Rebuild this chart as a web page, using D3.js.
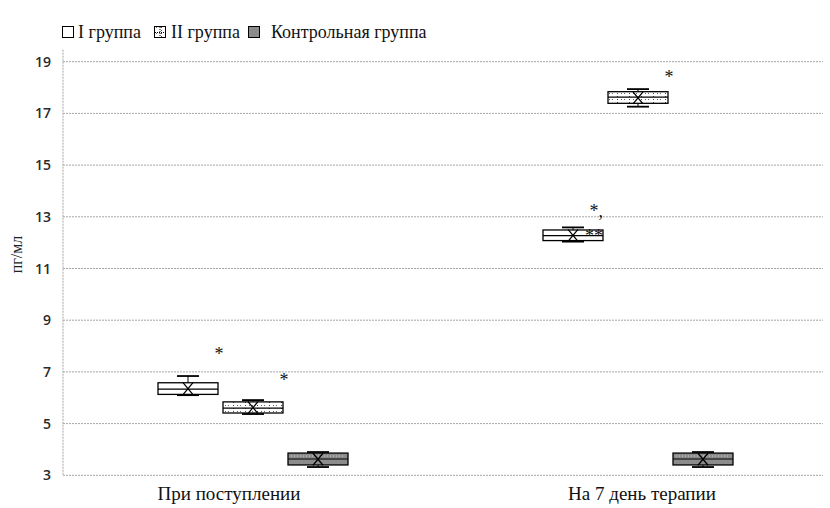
<!DOCTYPE html>
<html>
<head>
<meta charset="utf-8">
<script src="https://cdn.jsdelivr.net/npm/d3@7"></script>
<style>
  body { margin: 0; background: #fff; }
  svg { display: block; }
  .serif { font-family: 'Times New Roman', serif; }
</style>
</head>
<body>
<div id="chart"></div>
<script>
// Data
const categories = ['При поступлении', 'На 7 день терапии'];
const groups = ['I группа', 'II группа', 'Контрольная группа'];
const yTicks = [3, 5, 7, 9, 11, 13, 15, 17, 19];

// per group, one value per category
const mins    = [[6.10, 12.04], [5.37, 17.26], [3.32, 3.32]];
const q1s     = [[6.13, 12.08], [5.41, 17.39], [3.40, 3.40]];
const medians = [[6.33, 12.27], [5.60, 17.63], [3.63, 3.63]];
const q3s     = [[6.58, 12.49], [5.84, 17.84], [3.86, 3.86]];
const maxs    = [[6.84, 12.59], [5.91, 17.94], [3.90, 3.90]];
const means   = [[6.35, 12.28], [5.62, 17.60], [3.62, 3.62]];

// significance marks: group, category, text, baseline value
const marks = [
    {g: 0, c: 0, text: '*', v: 7.46},
    {g: 1, c: 0, text: '*', v: 6.45},
    {g: 0, c: 1, text: '*,', v: 12.99},
    {g: 0, c: 1, text: '**', v: 12.03},
    {g: 1, c: 1, text: '*', v: 18.18}
];

const W = 830, H = 508;
const plot = {left: 63, right: 823, top: 61.7, bottom: 475.3};

const svg = d3.select('#chart').append('svg')
    .attr('width', W).attr('height', H);

//Patterns
const defs = svg.append('defs');
const pat = defs.append('pattern')
    .attr('id', 'dots').attr('patternUnits', 'userSpaceOnUse')
    .attr('width', 12).attr('height', 6);
pat.append('rect').attr('width', 12).attr('height', 6).attr('fill', '#fff');
pat.append('rect').attr('x', 5).attr('y', 0).attr('width', 1).attr('height', 1).attr('fill', '#444');
pat.append('rect').attr('x', 5).attr('y', 3).attr('width', 1).attr('height', 1).attr('fill', '#444');
pat.append('rect').attr('x', 0).attr('y', 3).attr('width', 1).attr('height', 1).attr('fill', '#666');
pat.append('rect').attr('x', 9).attr('y', 3).attr('width', 1).attr('height', 1).attr('fill', '#666');

const fills = ['#ffffff', 'url(#dots)', '#8c8c8c'];

//Scales
const x = d3.scaleBand().domain(categories).range([60.5, 830.5]);
const y = d3.scaleLinear().domain([3, 19]).range([plot.bottom, plot.top]);
const offset = d3.scalePoint().domain(groups).range([-65, 65]);
const boxW = 60, capW = 22;

//Grid
svg.append('g')
    .selectAll('line')
    .data(yTicks)
    .join('line')
    .attr('x1', plot.left).attr('x2', plot.right)
    .attr('y1', d => y(d)).attr('y2', d => y(d))
    .attr('stroke', '#a6a6a6')
    .attr('stroke-dasharray', '2,1');

// Y axis line
svg.append('line')
    .attr('x1', plot.left).attr('x2', plot.left)
    .attr('y1', plot.top - 12).attr('y2', plot.bottom)
    .attr('stroke', '#a6a6a6')
    .attr('stroke-dasharray', '2,1');

// Y tick labels
svg.append('g')
    .selectAll('text')
    .data(yTicks)
    .join('text')
    .attr('x', plot.left - 12)
    .attr('y', d => y(d))
    .attr('dy', '0.36em')
    .attr('text-anchor', 'end')
    .style('font-family', "'Open Sans', sans-serif")
    .style('font-size', '14px')
    .style('font-weight', 600)
    .style('fill', '#2a2a2a')
    .text(d => d);

// Y title
svg.append('text')
    .attr('class', 'serif')
    .attr('transform', 'translate(22,' + ((plot.top + plot.bottom) / 2 - 14) + ') rotate(-90)')
    .attr('text-anchor', 'middle')
    .style('font-size', '16px')
    .style('fill', '#222')
    .text('пг/мл');

// X labels (the first one sits a little left of its category centre in the original)
const labelShift = [-24, 4];
svg.append('g')
    .selectAll('text')
    .data(categories)
    .join('text')
    .attr('class', 'serif')
    .attr('x', (d, i) => x(d) + x.bandwidth() / 2 + labelShift[i])
    .attr('y', 500)
    .attr('text-anchor', 'middle')
    .style('font-size', '19px')
    .style('fill', '#111')
    .text(d => d);

//Boxes
const rows = [];
groups.forEach((g, gi) => {
    categories.forEach((c, ci) => {
        rows.push({
            g, gi, c,
            min: mins[gi][ci], q1: q1s[gi][ci], med: medians[gi][ci],
            q3: q3s[gi][ci], max: maxs[gi][ci], mean: means[gi][ci]
        });
    });
});
const cx = d => x(d.c) + x.bandwidth() / 2 + offset(d.g);

const box = svg.append('g')
    .selectAll('g')
    .data(rows)
    .join('g');

// whiskers
box.append('line')
    .attr('x1', cx).attr('x2', cx)
    .attr('y1', d => y(d.max)).attr('y2', d => y(d.q3))
    .attr('stroke', '#000');
box.append('line')
    .attr('x1', cx).attr('x2', cx)
    .attr('y1', d => y(d.q1)).attr('y2', d => y(d.min))
    .attr('stroke', '#000');
box.append('rect')
    .attr('x', d => cx(d) - boxW / 2)
    .attr('y', d => y(d.q3))
    .attr('width', boxW)
    .attr('height', d => y(d.q1) - y(d.q3))
    .attr('fill', d => fills[d.gi])
    .attr('stroke', '#000')
    .attr('stroke-width', 1.3);
// control has a faint dotted line in its upper part
box.filter(d => d.gi === 2).append('line')
    .attr('x1', d => cx(d) - boxW / 2 + 3).attr('x2', d => cx(d) + boxW / 2 - 3)
    .attr('y1', d => (y(d.q3) + y(d.med)) / 2).attr('y2', d => (y(d.q3) + y(d.med)) / 2)
    .attr('stroke', '#cfcfcf')
    .attr('stroke-dasharray', '1,2');
// median
box.append('line')
    .attr('x1', d => cx(d) - boxW / 2).attr('x2', d => cx(d) + boxW / 2)
    .attr('y1', d => y(d.med)).attr('y2', d => y(d.med))
    .attr('stroke', '#000')
    .attr('stroke-width', 1.2);
// caps
['max', 'min'].forEach(k => {
    box.append('line')
        .attr('x1', d => cx(d) - capW / 2).attr('x2', d => cx(d) + capW / 2)
        .attr('y1', d => y(d[k])).attr('y2', d => y(d[k]))
        .attr('stroke', '#000')
        .attr('stroke-width', 1.8);
});
// mean X
box.append('path')
    .attr('d', d => {
        const mx = cx(d), my = y(d.mean), sx = 5, sy = 6;
        return 'M' + (mx - sx) + ',' + (my - sy) + 'L' + (mx + sx) + ',' + (my + sy) +
            'M' + (mx + sx) + ',' + (my - sy) + 'L' + (mx - sx) + ',' + (my + sy);
    })
    .attr('stroke', '#000')
    .attr('stroke-width', 1.3)
    .attr('fill', 'none');

// significance marks, hung on the right edge of their box
svg.append('g')
    .selectAll('text')
    .data(marks)
    .join('text')
    .attr('class', 'serif')
    .attr('x', d => x(categories[d.c]) + x.bandwidth() / 2 + offset(groups[d.g]) + boxW / 2 + (d.text.length > 1 ? 0 : 1))
    .attr('y', d => y(d.v))
    .attr('text-anchor', d => d.text.length > 1 ? 'end' : 'middle')
    .style('font-size', '18px')
    .style('fill', '#111')
    .text(d => d.text);

//Legend
const legend = svg.append('g');
const legStart = [62, 154, 248];
const legGap = [5, 6, 12];
groups.forEach((g, i) => {
    legend.append('rect')
        .attr('x', legStart[i] + 0.5).attr('y', 26.5)
        .attr('width', 11).attr('height', 11)
        .attr('fill', fills[i])
        .attr('stroke', '#000')
        .attr('stroke-width', 1);
    if (i === 1) {
        legend.append('path')
            .attr('d', 'M' + (legStart[i] + 6) + ',27V38M' + (legStart[i] + 1) + ',32.5H' + (legStart[i] + 11))
            .attr('stroke', '#000')
            .attr('stroke-dasharray', '1,1');
    }
    legend.append('text')
        .attr('class', 'serif')
        .attr('x', legStart[i] + 11 + legGap[i])
        .attr('y', 38)
        .style('font-size', '18px')
        .style('fill', '#111')
        .text(g);
});
</script>
</body>
</html>
